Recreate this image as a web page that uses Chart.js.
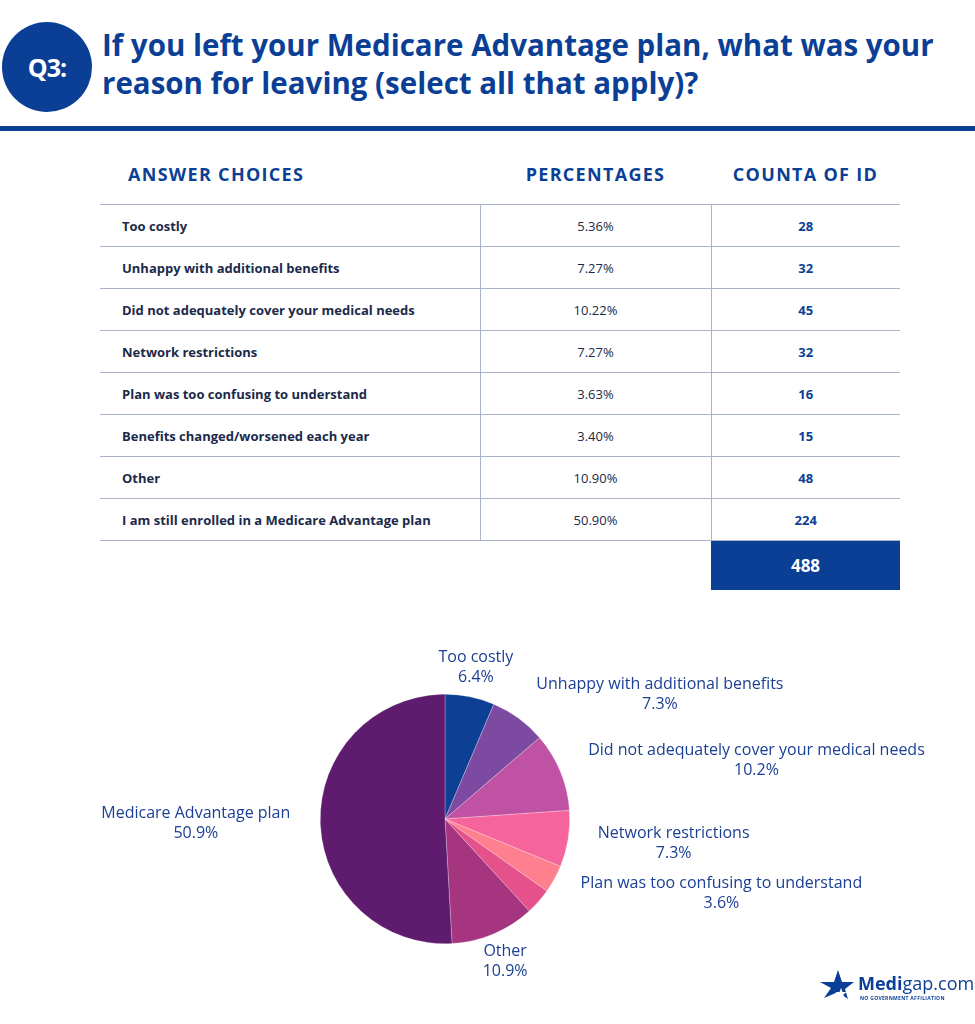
<!DOCTYPE html>
<html>
<head>
<meta charset="utf-8">
<script src="https://cdn.jsdelivr.net/npm/chart.js@4.4.0/dist/chart.umd.min.js"></script>
<style>
    body { margin: 0; background: #fff; }
    #page { position: relative; width: 975px; height: 1024px; overflow: hidden; font-family: "Open Sans", sans-serif; }
    #badge { position: absolute; left: 2px; top: 22px; width: 90px; height: 90px; border-radius: 50%; background: #0b3f96; color: #fff; font-weight: 700; font-size: 25px; display: flex; align-items: center; justify-content: center; letter-spacing: -1px; }
    #title { position: absolute; left: 102px; top: 26px; width: 870px; color: #0b3f96; font-weight: 700; font-size: 29.5px; line-height: 38px; }
    #rule { position: absolute; left: 0; top: 126px; width: 975px; height: 5px; background: #0b3f96; }
    #survey { position: absolute; left: 100px; top: 150px; width: 800px; border-collapse: collapse; table-layout: fixed; }
    #survey th { height: 42px; padding: 0; padding-top: 12px; color: #0b3f96; font-size: 18px; font-weight: 700; letter-spacing: 1.3px; border-bottom: 1.5px solid #a9b4cc; vertical-align: top; }
    #survey td { height: 41px; padding: 0; border-bottom: 1.5px solid #a9b4cc; font-size: 13px; color: #1b2a4a; }
    #survey td + td { border-left: 1.5px solid #a9b4cc; text-align: center; }
    #survey td.choice { font-weight: 700; padding-left: 22px; }
    #survey td.count { font-weight: 700; color: #0b3f96; }
    #total { position: absolute; left: 711px; top: 541px; width: 189px; height: 49px; background: #0b3f96; color: #fff; font-size: 17px; font-weight: 700; display: flex; align-items: center; justify-content: center; }
    #pie { position: absolute; left: 0; top: 619px; }
    #logo { position: absolute; left: 820px; top: 968px; width: 155px; height: 40px; }
    #logo svg { position: absolute; left: 0; top: 0; }
    #logo .name { position: absolute; left: 38px; top: 4px; font-size: 18px; line-height: 22px; color: #0b3f96; }
    #logo .tag { position: absolute; left: 40px; top: 27px; font-size: 5px; font-weight: 700; color: #0b3f96; letter-spacing: 0.3px; white-space: nowrap; }
</style>
</head>
<body>
<div id="page">
    <div id="badge">Q3:</div>
    <div id="title"></div>
    <div id="rule"></div>
    <table id="survey"></table>
    <div id="total"></div>
    <canvas id="pie" width="975" height="400"></canvas>
    <div id="logo">
        <svg width="36" height="32" viewBox="0 0 36 32">
            <polygon points="18,2 22,14 34,14 25,21 28,31 18,24 4,30 11,20 0,14 14,14" fill="#0b3f96"/>
            <polygon points="21,20 22.5,24 26.5,24 23.3,26.5 24.5,30 21,28 17.5,30 18.7,26.5 15.5,24 19.5,24" fill="#fff"/>
        </svg>
        <div class="name"><b>Medi</b>gap.com</div>
        <div class="tag">NO GOVERNMENT AFFILIATION</div>
    </div>
</div>
<script>
const titleText = "If you left your Medicare Advantage plan, what was your reason for leaving (select all that apply)?";

const headers = ["ANSWER CHOICES", "PERCENTAGES", "COUNTA OF ID"];

const choices = [
    "Too costly",
    "Unhappy with additional benefits",
    "Did not adequately cover your medical needs",
    "Network restrictions",
    "Plan was too confusing to understand",
    "Benefits changed/worsened each year",
    "Other",
    "I am still enrolled in a Medicare Advantage plan"
];
const percentages = ["5.36%", "7.27%", "10.22%", "7.27%", "3.63%", "3.40%", "10.90%", "50.90%"];
const counts = [28, 32, 45, 32, 16, 15, 48, 224];
const totalCount = 488;

// pie labels as printed on the chart (Benefits changed slice has no label)
const pieNames = [
    "Too costly",
    "Unhappy with additional benefits",
    "Did not adequately cover your medical needs",
    "Network restrictions",
    "Plan was too confusing to understand",
    "",
    "Other",
    "Medicare Advantage plan"
];
const pieValues = [6.4, 7.3, 10.2, 7.3, 3.6, 3.4, 10.9, 50.9];
const pieColors = ["#0d3f95", "#7d4aa1", "#c052a4", "#f5659c", "#fe7f8d", "#e5528b", "#a6357f", "#5f1c6f"];

document.querySelector("#title").textContent = titleText;
document.querySelector("#total").textContent = totalCount;

let table = document.querySelector("#survey");

let colgroup = document.createElement("colgroup");
[380, 231, 189].forEach(w => {
    let col = document.createElement("col");
    col.style.width = w + "px";
    colgroup.appendChild(col);
});
table.appendChild(colgroup);

let headRow = document.createElement("tr");
headers.forEach((h, i) => {
    let th = document.createElement("th");
    th.textContent = h;
    th.style.textAlign = i === 0 ? "left" : "center";
    if (i === 0) th.style.paddingLeft = "28px";
    headRow.appendChild(th);
});
table.appendChild(headRow);

choices.forEach((c, i) => {
    let tr = document.createElement("tr");
    let a = document.createElement("td");
    a.className = "choice";
    a.textContent = c;
    let b = document.createElement("td");
    b.textContent = percentages[i];
    let d = document.createElement("td");
    d.className = "count";
    d.textContent = counts[i];
    tr.appendChild(a);
    tr.appendChild(b);
    tr.appendChild(d);
    table.appendChild(tr);
});

const outsideLabels = {
    id: "outsideLabels",
    afterDatasetsDraw(chart) {
        const ctx = chart.ctx;
        const meta = chart.getDatasetMeta(0);
        ctx.save();
        ctx.font = '16px "Open Sans"';
        ctx.fillStyle = "#1b3f94";
        ctx.textBaseline = "middle";
        ctx.textAlign = "center";
        meta.data.forEach((arc, i) => {
            if (!pieNames[i]) return;
            const mid = (arc.startAngle + arc.endAngle) / 2;
            const r = arc.outerRadius + 30;
            const x = arc.x + Math.cos(mid) * r;
            const y = arc.y + Math.sin(mid) * r;
            const lines = [pieNames[i], pieValues[i].toFixed(1) + "%"];
            const w = Math.max(...lines.map(l => ctx.measureText(l).width));
            let cx = x;
            if (Math.cos(mid) > 0.5) cx = x + w / 2;
            else if (Math.cos(mid) < -0.5) cx = x - w / 2;
            lines.forEach((l, k) => ctx.fillText(l, cx, y + (k - 0.5) * 20));
        });
        ctx.restore();
    }
};

new Chart(document.getElementById("pie"), {
    type: "pie",
    data: {
        labels: pieNames,
        datasets: [{
            data: pieValues,
            backgroundColor: pieColors,
            borderColor: "rgba(255,255,255,0.5)",
            borderWidth: 0.5
        }]
    },
    options: {
        responsive: false,
        animation: false,
        layout: { padding: { left: 320, right: 405, top: 75, bottom: 75 } },
        plugins: { legend: { display: false }, tooltip: { enabled: false } }
    },
    plugins: [outsideLabels]
});
</script>
</body>
</html>
